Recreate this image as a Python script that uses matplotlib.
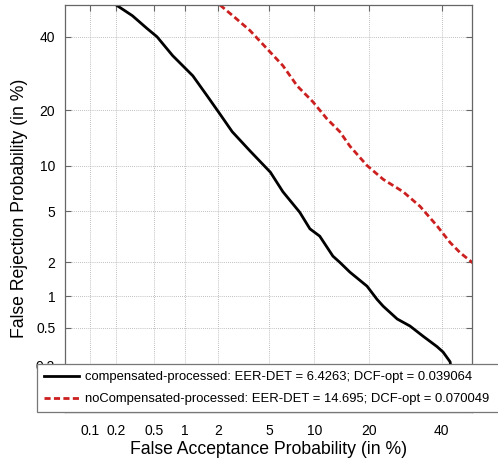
import math
import numpy as np
import matplotlib
matplotlib.use("Agg")
import matplotlib.pyplot as plt

# DET curves (percent)
comp_fa = [0.20, 0.30, 0.43, 0.54, 0.77, 1.19, 1.6, 2.06, 2.6, 3.6, 5.1, 6.25,
           8.1, 9.4, 10.8, 12.9, 14.1, 16.0, 19.6, 21.9, 23.4, 27.0, 30.5,
           34.3, 38.5, 40.4, 42.6, 44.5]
comp_fr = [50.0, 46.6, 42.5, 40.0, 34.3, 28.6, 23.4, 19.2, 15.6, 12.2, 9.1, 6.8,
           4.9, 3.7, 3.25, 2.25, 2.0, 1.65, 1.24, 0.94, 0.81, 0.61, 0.52,
           0.41, 0.32, 0.28, 0.22, 0.08]

nocomp_fa = [2.06, 2.74, 3.6, 5.07, 6.25, 7.8, 9.8, 11.9, 14.1, 16.0, 19.6,
             23.4, 28.6, 33.4, 38.5, 42.6, 45.8, 49.6, 52.0]
nocomp_fr = [50.0, 46.0, 41.9, 35.4, 31.4, 25.9, 22.0, 18.2, 15.6, 13.0, 10.0,
             8.2, 6.8, 5.4, 3.9, 2.9, 2.4, 2.0, 1.8]

labels = ["compensated-processed: EER-DET = 6.4263; DCF-opt = 0.039064",
          "noCompensated-processed: EER-DET = 14.695; DCF-opt = 0.070049"]

ticks = [0.1, 0.2, 0.5, 1, 2, 5, 10, 20, 40]
tick_labels = ["0.1", "0.2", "0.5", "1", "2", "5", "10", "20", "40"]


def _ppf(p):
    # Acklam's approximation, refined with one Newton step
    if p <= 0:
        return -8.0
    if p >= 1:
        return 8.0
    a = [-3.969683028665376e+01, 2.209460984245205e+02, -2.759285104469687e+02,
         1.383577518672690e+02, -3.066479806614716e+01, 2.506628277459239e+00]
    b = [-5.447609879822406e+01, 1.615858368580409e+02, -1.556989798598866e+02,
         6.680131188771972e+01, -1.328068155288572e+01]
    c = [-7.784894002430293e-03, -3.223964580411365e-01, -2.400758277161838e+00,
         -2.549732539343734e+00, 4.374664141464968e+00, 2.938163982698783e+00]
    d = [7.784695709041462e-03, 3.224671290700398e-01, 2.445134137142996e+00,
         3.754408661907416e+00]
    if p < 0.02425:
        q = math.sqrt(-2 * math.log(p))
        x = (((((c[0]*q+c[1])*q+c[2])*q+c[3])*q+c[4])*q+c[5]) / \
            ((((d[0]*q+d[1])*q+d[2])*q+d[3])*q+1)
    elif p > 1 - 0.02425:
        q = math.sqrt(-2 * math.log(1 - p))
        x = -(((((c[0]*q+c[1])*q+c[2])*q+c[3])*q+c[4])*q+c[5]) / \
            ((((d[0]*q+d[1])*q+d[2])*q+d[3])*q+1)
    else:
        q = p - 0.5
        r = q * q
        x = (((((a[0]*r+a[1])*r+a[2])*r+a[3])*r+a[4])*r+a[5])*q / \
            (((((b[0]*r+b[1])*r+b[2])*r+b[3])*r+b[4])*r+1)
    e = 0.5 * math.erfc(-x / math.sqrt(2)) - p
    u = e * math.sqrt(2 * math.pi) * math.exp(x * x / 2)
    return x - u / (1 + x * u / 2)


def forward(v):
    v = np.asarray(v, dtype=float)
    return np.vectorize(lambda t: _ppf(t / 100.0), otypes=[float])(v)


def inverse(z):
    z = np.asarray(z, dtype=float)
    return np.vectorize(lambda t: 50.0 * math.erfc(-t / math.sqrt(2)),
                        otypes=[float])(z)


plt.rcParams["font.family"] = ["Liberation Sans", "DejaVu Sans"]

fig = plt.figure(figsize=(4.98, 4.61), dpi=100)
ax = fig.add_axes([0.1305, 0.1063, 0.8173, 0.8829])

ax.set_xscale("function", functions=(forward, inverse))
ax.set_yscale("function", functions=(forward, inverse))

ax.plot(comp_fa, comp_fr, color="black", lw=2, label=labels[0])
ax.plot(nocomp_fa, nocomp_fr, color="#cc1f1f", lw=2, ls=(0, (2.2, 1.2)),
        label=labels[1])

ax.set_xlim(0.05, 49.6)
ax.set_ylim(0.058, 50)

ax.set_xticks(ticks)
ax.set_xticklabels(tick_labels)
ax.set_yticks(ticks)
ax.set_yticklabels(tick_labels)
ax.minorticks_off()

ax.grid(True, ls=(0, (1, 1.5)), lw=0.6, color="#aaaaaa")
for s in ax.spines.values():
    s.set_color("#666666")
    s.set_linewidth(0.9)
ax.tick_params(axis="both", direction="in", length=4, width=0.8,
               color="#666666", labelsize=10, top=True, right=True)
ax.tick_params(axis="x", pad=9)
ax.tick_params(axis="y", pad=7)

ax.set_xlabel("False Acceptance Probability (in %)", fontsize=12.7, labelpad=2)
ax.set_ylabel("False Rejection Probability (in %)", fontsize=12.7, labelpad=6)

# legend box runs past the right edge of the figure, as in the original
leg = fig.legend(loc="upper left", bbox_to_anchor=(0.0743, 0.2104, 0.96, 0),
                 mode="expand", fontsize=9.4, frameon=True, fancybox=False,
                 framealpha=1, edgecolor="#777777", handlelength=2.7,
                 borderpad=0.55, labelspacing=0.75, handletextpad=0.4,
                 borderaxespad=0)
leg.get_frame().set_linewidth(0.9)

fig.savefig("out.png", dpi=100)
